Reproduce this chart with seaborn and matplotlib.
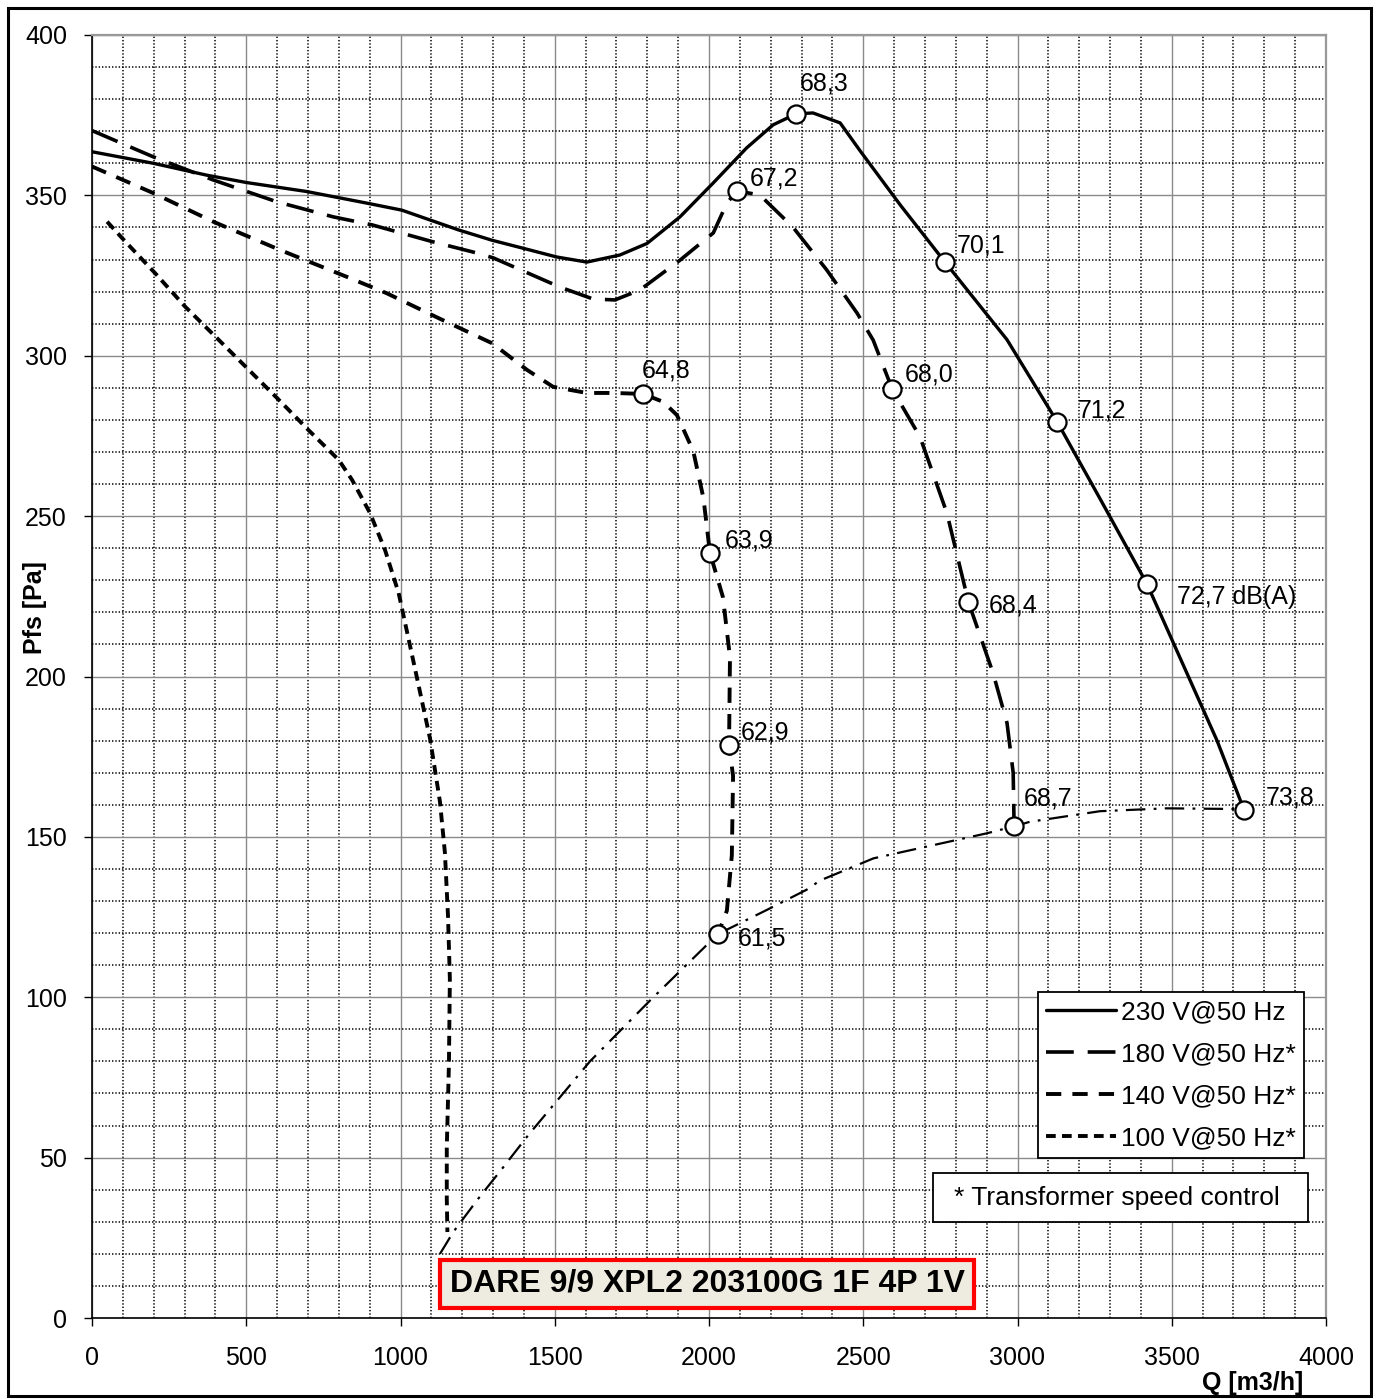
import numpy as np
import pandas as pd
import seaborn as sns
import matplotlib
matplotlib.use("Agg")
import matplotlib.pyplot as plt
from matplotlib.ticker import MultipleLocator
from matplotlib.patches import Rectangle

# fan curves: Q [m3/h] vs Pfs [Pa]
q_230 = [0, 199, 372, 501, 696, 890, 1004, 1189, 1297, 1398, 1506, 1604, 1711, 1799,
         1906, 2014, 2122, 2208, 2282, 2337, 2425, 2489, 2620, 2765, 2966, 3128,
         3270, 3420, 3646, 3734]
p_230 = [363.6, 360, 356.3, 354, 351.2, 347.6, 345.4, 339.2, 336, 333.5, 330.8, 329.2,
         331.4, 335, 343.3, 353.9, 364.8, 372, 375.4, 375.7, 372.6, 364, 347, 329.2,
         305, 279.5, 255, 228.8, 180.2, 158.5]

q_180 = [0, 199, 393, 599, 782, 908, 1106, 1253, 1301, 1517, 1624, 1695, 1776, 1906,
         2014, 2058, 2091, 2165, 2272, 2382, 2480, 2532, 2594, 2684, 2771, 2841, 2921,
         2966, 2986, 2989]
p_180 = [370.2, 362, 354.8, 348, 343.3, 340.8, 335.5, 331.9, 330.5, 321.4, 317.7, 317.4,
         320.5, 329.8, 338.3, 347.6, 351.4, 350.1, 340.1, 326.7, 313.3, 304.9, 289.6,
         274.7, 251, 223.2, 201, 185.5, 170, 153.3]

q_140 = [0, 199, 393, 609, 826, 955, 1124, 1297, 1410, 1495, 1604, 1690, 1787, 1852,
         1896, 1949, 1982, 2003, 2045, 2068, 2065, 2078, 2074, 2058, 2029]
p_140 = [359, 350.7, 341.8, 333, 324.6, 319.5, 311.7, 303.9, 295.6, 290.3, 288.4, 288.4,
         288.1, 285.6, 281.5, 270.3, 255.6, 238.6, 224.8, 206, 178.6, 169, 144.3, 127,
         119.7]

q_100 = [49, 108, 205, 302, 405, 502, 600, 702, 800, 843, 901, 950, 994, 1052, 1096,
         1128, 1144, 1154, 1160, 1157, 1150, 1150, 1152]
p_100 = [341.8, 335.6, 325.7, 315.3, 305.5, 296.2, 286.8, 276.8, 267.5, 261.3, 251,
         239.4, 226, 200.2, 180.5, 160.9, 145, 125.3, 105.7, 79.3, 53, 37.2, 26.8]

# system (working point) curve
q_sys = [1128, 1171, 1252, 1333, 1414, 1614, 1809, 2029, 2187, 2316, 2360, 2533, 2900,
         2989, 3040, 3267, 3483, 3699, 3737]
p_sys = [20, 26.8, 37.2, 47, 57, 80, 99, 119.7, 127.2, 133.5, 136.4, 143.3, 151.1,
         153.3, 154.7, 158, 158.9, 158.7, 158.5]

# measuring points with sound level dB(A)
mq_230 = [2282, 2765, 3128, 3420, 3734]
mp_230 = [375.4, 329.2, 279.5, 228.8, 158.5]
ml_230 = ["68,3", "70,1", "71,2", "72,7 dB(A)", "73,8"]

mq_180 = [2091, 2594, 2841, 2989]
mp_180 = [351.4, 289.6, 223.2, 153.3]
ml_180 = ["67,2", "68,0", "68,4", "68,7"]

mq_140 = [1787, 2003, 2065, 2029]
mp_140 = [288.1, 238.6, 178.6, 119.7]
ml_140 = ["64,8", "63,9", "62,9", "61,5"]

series_names = ["230 V@50 Hz", "180 V@50 Hz*", "140 V@50 Hz*", "100 V@50 Hz*"]
title_text = "DARE 9/9 XPL2 203100G 1F 4P 1V"
note_text = "* Transformer speed control"

sns.set_theme(style="white")
plt.rcParams["font.family"] = ["Liberation Sans", "DejaVu Sans"]
plt.rcParams["lines.scale_dashes"] = False
plt.rcParams["text.color"] = "black"
plt.rcParams["axes.labelcolor"] = "black"
plt.rcParams["xtick.color"] = "black"
plt.rcParams["ytick.color"] = "black"

W, H = 1378, 1399
fig = plt.figure(figsize=(W / 100, H / 100), dpi=100)
ax = fig.add_axes([92 / W, 1 - 1318 / H, 1234 / W, 1283 / H])

styles = [
    ("-", 2.4),
    ((0, (20, 10)), 2.6),
    ((0, (11, 8)), 2.8),
    ((0, (7, 4.5)), 2.8),
]
curves = [(q_230, p_230), (q_180, p_180), (q_140, p_140), (q_100, p_100)]
for (q, p), name, (ls, lw) in zip(curves, series_names, styles):
    sns.lineplot(x=q, y=p, ax=ax, sort=False, estimator=None, color="black",
                 lw=lw, linestyle=ls, label=name, zorder=3)

sns.lineplot(x=q_sys, y=p_sys, ax=ax, sort=False, estimator=None, color="black",
             lw=1.6, linestyle=(0, (14, 6, 2, 6)), zorder=3)

# label offsets in pixels from each circle
offs_230 = [(4, 30), (12, 17), (21, 11), (30, -13), (22, 12)]
offs_180 = [(13, 12), (13, 15), (20, -3), (10, 28)]
offs_140 = [(-2, 23), (15, 12), (12, 13), (20, -4)]

for mq, mp, ml, offs in [(mq_230, mp_230, ml_230, offs_230),
                         (mq_180, mp_180, ml_180, offs_180),
                         (mq_140, mp_140, ml_140, offs_140)]:
    sns.scatterplot(x=mq, y=mp, ax=ax, s=170, color="white", edgecolor="black",
                    linewidth=1.6, zorder=5, legend=False)
    for q, p, lab, (dx, dy) in zip(mq, mp, ml, offs):
        ax.annotate(lab, (q, p), xytext=(dx, dy), textcoords="offset pixels",
                    fontsize=18, color="black", ha="left", va="center", zorder=6)

ax.set_xlim(0, 4000)
ax.set_ylim(0, 400)
ax.xaxis.set_major_locator(MultipleLocator(500))
ax.xaxis.set_minor_locator(MultipleLocator(100))
ax.yaxis.set_major_locator(MultipleLocator(50))
ax.yaxis.set_minor_locator(MultipleLocator(10))
ax.set_axisbelow(True)
ax.grid(which="major", color="#8a8a8a", lw=1.0, ls="-")
ax.grid(which="minor", color="black", lw=1.1, ls=(0, (1, 1.4)))
ax.tick_params(which="major", direction="out", length=6, width=1, color="black",
               labelsize=18, labelcolor="black")
ax.tick_params(axis="x", which="major", pad=14)
ax.tick_params(axis="y", which="major", pad=12)
ax.tick_params(which="minor", length=0)
ax.tick_params(left=True, bottom=True)

for side in ["left", "bottom"]:
    ax.spines[side].set_color("black")
    ax.spines[side].set_linewidth(1.2)
for side in ["top", "right"]:
    ax.spines[side].set_color("#999999")
    ax.spines[side].set_linewidth(1.6)

ax.set_xlabel("Q [m3/h]", fontsize=18, fontweight="bold", color="black")
ax.xaxis.set_label_coords(0.9814, -0.0507)
ax.xaxis.label.set_ha("right")
ax.xaxis.label.set_va("center")
ax.set_ylabel("Pfs [Pa]", fontsize=18, fontweight="bold", color="black")
ax.yaxis.set_label_coords(-0.0462, 0.554)
ax.yaxis.label.set_va("center")

handles, labels = ax.get_legend_handles_labels()
leg = ax.legend(handles[:4], labels[:4], loc="upper right",
                bbox_to_anchor=(0.982, 0.254), borderaxespad=0, fontsize=19,
                handlelength=2.65, handletextpad=0.2, labelspacing=0.68,
                borderpad=0.3, frameon=True, fancybox=False, framealpha=1,
                edgecolor="black")
leg.get_frame().set_linewidth(1.3)
leg.set_zorder(7)
for t in leg.get_texts():
    t.set_color("black")

# note box
ax.add_patch(Rectangle((0.6815, 0.0748), 0.9854 - 0.6815, 0.1130 - 0.0748,
                       transform=ax.transAxes, facecolor="white", edgecolor="black",
                       lw=1.3, zorder=7))
ax.text(0.8306, 0.0935, note_text, transform=ax.transAxes, fontsize=19,
        color="black", ha="center", va="center", zorder=8)

# model title box
ax.add_patch(Rectangle((0.282, 0.0078), 0.7147 - 0.282, 0.0452 - 0.0078,
                       transform=ax.transAxes, facecolor="#EEECE1", edgecolor="red",
                       lw=3, zorder=7))
ax.text(0.4984, 0.0269, title_text, transform=ax.transAxes, fontsize=23,
        fontweight="bold", color="black", ha="center", va="center", zorder=8)

fig.add_artist(Rectangle((8 / W, 1 - 1396 / H), (1371 - 8) / W, (1396 - 8) / H,
                         transform=fig.transFigure, fill=False, edgecolor="black",
                         lw=2.2))

fig.savefig("out.png", dpi=100)
